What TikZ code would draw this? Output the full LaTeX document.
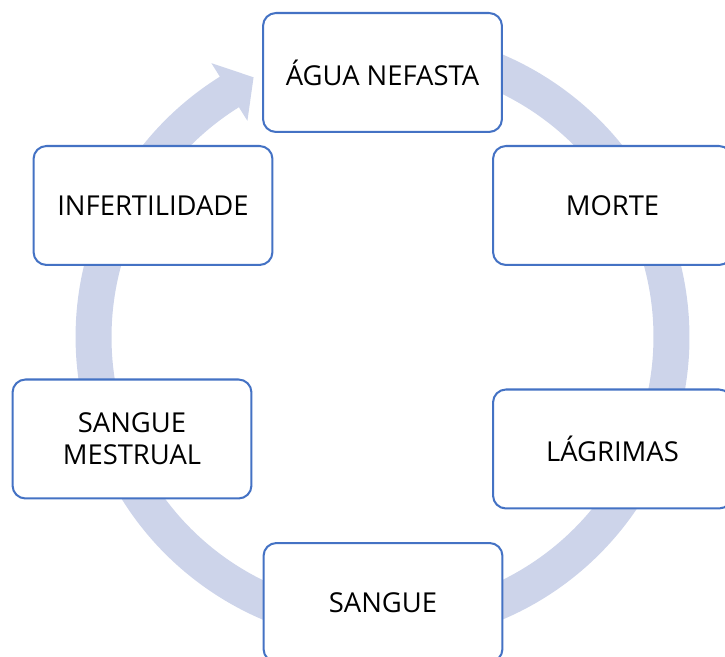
\documentclass[tikz,border=0pt]{standalone}
\usepackage{fontspec}
\setmainfont{Open Sans}
\definecolor{boxblue}{RGB}{68,114,196}
\definecolor{ringblue}{RGB}{205,212,234}
\tikzset{
  cyclebox/.style={draw=boxblue, line width=1.15pt, fill=white, rounded corners=0.26cm,
    minimum width=4.78cm, minimum height=2.38cm, align=center,
    font=\fontsize{15.6}{18.4}\selectfont, text=black, inner sep=0pt},
  ring/.style={fill=ringblue, draw=none}
}
\begin{document}
\begin{tikzpicture}[x=0.02cm,y=0.02cm]
\useasboundingbox (0,0) rectangle (725,657);
% circular arrow
\coordinate (c) at (382.5,320);
\fill[ring, shift={(c)}]
  (100:6.14cm) arc[start angle=100, end angle=-238, radius=6.14cm]
  -- (-238:6.46cm) -- (-243.6:5.80cm) -- (-238:5.10cm) -- (-238:5.42cm)
  arc[start angle=-238, end angle=100, radius=5.42cm] -- cycle;
% boxes
\node[cyclebox] (agua) at (382.5,584.5) {ÁGUA NEFASTA};
\node[cyclebox] (morte) at (612.5,451.5) {MORTE};
\node[cyclebox] (lagrimas) at (612.5,208) {LÁGRIMAS};
\node[cyclebox] (sangue) at (383,54.5) {SANGUE};
\node[cyclebox] (mestrual) at (132,218) {SANGUE\\MESTRUAL};
\node[cyclebox] (infert) at (153,451.5) {INFERTILIDADE};
\end{tikzpicture}
\end{document}
